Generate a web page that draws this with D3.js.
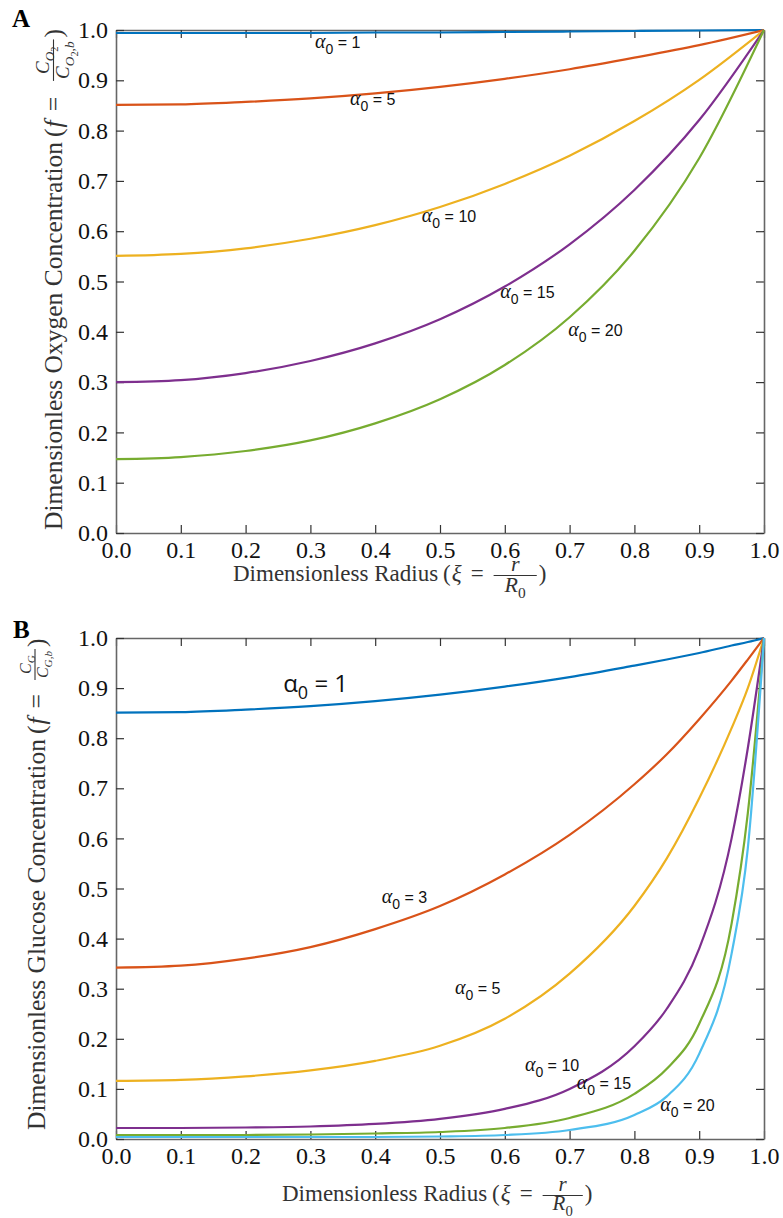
<!doctype html>
<html lang="en">
<head>
<meta charset="utf-8">
<title>Dimensionless concentration profiles</title>
<script src="https://cdn.jsdelivr.net/npm/d3@7"></script>
<style>
  body { margin: 0; background: #fff; }
  svg { display: block; }
</style>
</head>
<body>
<svg id="fig" width="783" height="1218"></svg>
<script>
// ---- data ----
var ticks = [0, 0.1, 0.2, 0.3, 0.4, 0.5, 0.6, 0.7, 0.8, 0.9, 1.0];

// panel A: oxygen
var xiA = [0, 0.1, 0.2, 0.3, 0.4, 0.5, 0.6, 0.7, 0.8, 0.9, 1.0];
var oxyA1  = [0.994, 0.994, 0.994, 0.994, 0.995, 0.995, 0.996, 0.997, 0.998, 0.999, 1.0];
var oxyA5  = [0.851, 0.852, 0.857, 0.864, 0.874, 0.887, 0.903, 0.922, 0.945, 0.970, 1.0];
var oxyA10 = [0.551, 0.555, 0.566, 0.585, 0.612, 0.648, 0.694, 0.750, 0.819, 0.901, 1.0];
var oxyA15 = [0.300, 0.304, 0.318, 0.342, 0.377, 0.425, 0.490, 0.574, 0.682, 0.821, 1.0];
var oxyA20 = [0.147, 0.151, 0.163, 0.184, 0.218, 0.266, 0.334, 0.429, 0.561, 0.745, 1.0];
var seriesA = [oxyA1, oxyA5, oxyA10, oxyA15, oxyA20];
var namesA = ["1", "5", "10", "15", "20"];
// label anchors (xi, f)
var labA = [[0.307, 0.964], [0.361, 0.851], [0.472, 0.618], [0.593, 0.467], [0.698, 0.392]];

// panel B: glucose
var xiB = [0, 0.1, 0.2, 0.3, 0.4, 0.5, 0.6, 0.7, 0.8, 0.85, 0.9, 0.95, 0.975, 1.0];
var gluB1  = [0.851, 0.852, 0.857, 0.864, 0.874, 0.887, 0.903, 0.922, 0.945, 0.957, 0.970, 0.985, 0.992, 1.0];
var gluB3  = [0.342, 0.346, 0.360, 0.383, 0.419, 0.465, 0.528, 0.607, 0.708, 0.768, 0.838, 0.915, 0.957, 1.0];
var gluB5  = [0.116, 0.118, 0.125, 0.137, 0.156, 0.186, 0.240, 0.330, 0.465, 0.560, 0.680, 0.820, 0.900, 1.0];
var gluB10 = [0.022, 0.022, 0.023, 0.025, 0.030, 0.040, 0.060, 0.100, 0.185, 0.260, 0.380, 0.600, 0.780, 1.0];
var gluB15 = [0.008, 0.008, 0.008, 0.009, 0.011, 0.014, 0.022, 0.042, 0.090, 0.140, 0.230, 0.430, 0.650, 1.0];
var gluB20 = [0.004, 0.004, 0.004, 0.004, 0.004, 0.005, 0.008, 0.018, 0.048, 0.085, 0.170, 0.370, 0.580, 1.0];
var seriesB = [gluB1, gluB3, gluB5, gluB10, gluB15, gluB20];
var namesB = ["1", "3", "5", "10", "15", "20"];
var labB = [[0.258, 0.892], [0.410, 0.472], [0.523, 0.290], [0.631, 0.136], [0.711, 0.100], [0.840, 0.056]];

var colors = ["#0072BD", "#D95319", "#EDB120", "#7E2F8E", "#77AC30", "#4DBEEE"];

var serif = "'Liberation Serif', 'Times New Roman', serif";
var sans = "'Liberation Sans', Arial, sans-serif";

var svg = d3.select("#fig");

function drawPanel(top, bottom, xi, series, names, labs, bigFirst) {
  var g = svg.append("g");
  var x = d3.scaleLinear().domain([0, 1]).range([116, 764]);
  var y = d3.scaleLinear().domain([0, 1]).range([bottom, top]);
  var fmt = d3.format(".1f");

  var axes = [
    g.append("g").attr("transform", "translate(0," + bottom + ")")
      .call(d3.axisBottom(x).tickValues(ticks).tickFormat(fmt).tickSizeInner(-8).tickSizeOuter(0).tickPadding(8)),
    g.append("g").attr("transform", "translate(0," + top + ")")
      .call(d3.axisTop(x).tickValues(ticks).tickFormat("").tickSizeInner(-8).tickSizeOuter(0)),
    g.append("g").attr("transform", "translate(116,0)")
      .call(d3.axisLeft(y).tickValues(ticks).tickFormat(fmt).tickSizeInner(-8).tickSizeOuter(0).tickPadding(8)),
    g.append("g").attr("transform", "translate(764,0)")
      .call(d3.axisRight(y).tickValues(ticks).tickFormat("").tickSizeInner(-8).tickSizeOuter(0))
  ];
  axes.forEach(function(a) { a.attr("font-family", serif).attr("font-size", 24); });
  g.selectAll(".tick text").attr("fill", "#111").attr("font-family", serif);
  g.selectAll(".domain").attr("stroke", "#666").attr("stroke-width", 1.6);
  g.selectAll(".tick line").attr("stroke", "#333").attr("stroke-width", 1.2);

  var line = d3.line().x(function(d) { return x(d[0]); }).y(function(d) { return y(d[1]); })
    .curve(d3.curveMonotoneX);
  series.forEach(function(s, i) {
    g.append("path").datum(d3.zip(xi, s)).attr("d", line)
      .attr("fill", "none").attr("stroke", colors[i]).attr("stroke-width", 2.2);
  });

  // curve labels
  labs.forEach(function(p, i) {
    var big = bigFirst && i == 0;
    var t = g.append("text").attr("font-family", sans).attr("fill", "#111")
      .attr("x", x(p[0])).attr("y", y(p[1]));
    if (big) {
      t.attr("font-family", "'Open Sans', 'Noto Sans', sans-serif");
      t.append("tspan").attr("font-size", 24).text("\u03b1");
      t.append("tspan").attr("font-size", 18).attr("dy", 7).text("0");
      t.append("tspan").attr("font-size", 24).attr("dy", -7).text(" = " + names[i]);
    } else {
      t.append("tspan").attr("font-size", 20).attr("font-style", "italic")
        .attr("font-family", serif).text("\u03b1");
      t.append("tspan").attr("font-size", 14).attr("dy", 6).text("0");
      t.append("tspan").attr("font-size", 16).attr("dy", -6).text(" = " + names[i]);
    }
  });
  return g;
}

// math-style axis title: text, "(", italic variable, "=", fraction, ")"
function addPieces(txt, pieces, fs) {
  var off = 0;
  pieces.forEach(function(p) {
    var lev = p[2] || 0;
    var target = lev == 0 ? 0 : (lev == 1 ? 0.28 * fs : 0.45 * fs);
    var size = lev == 0 ? fs : (lev == 1 ? fs * 0.7 : fs * 0.55);
    txt.append("tspan").attr("dy", target - off).attr("font-size", size)
      .attr("font-style", p[1] ? "italic" : "normal").text(p[0]);
    off = target;
  });
}

function mathTitle(transform, prefix, varName, num, den, o) {
  var g = svg.append("g").attr("transform", transform)
    .attr("font-family", serif).attr("fill", "#333");
  var t = g.append("text").attr("x", 0).attr("y", 0).attr("font-size", o.fs);
  t.append("tspan").text(prefix);
  t.append("tspan").attr("dx", o.par).text("(");
  t.append("tspan").attr("dx", 1).attr("font-style", "italic").text(varName);
  t.append("tspan").attr("dx", o.eq).text("=");
  var w = t.node().getComputedTextLength() + o.par + 1 + o.eq + o.gap;
  var n = g.append("text").attr("y", o.numY).attr("font-size", o.ffs);
  addPieces(n, num, o.ffs);
  var d = g.append("text").attr("y", o.denY).attr("font-size", o.ffs);
  addPieces(d, den, o.ffs);
  var nw = n.node().getComputedTextLength(), dw = d.node().getComputedTextLength();
  var fw = Math.max(nw, dw) + o.pad;
  var cx = w + fw / 2;
  n.attr("x", cx - nw / 2);
  d.attr("x", cx - dw / 2);
  g.append("line").attr("x1", w).attr("x2", w + fw).attr("y1", o.barY).attr("y2", o.barY)
    .attr("stroke", "#333").attr("stroke-width", 1.1);
  g.append("text").attr("x", w + fw + 2).attr("y", 0).attr("font-size", o.fs).text(")");
}

drawPanel(30, 533, xiA, seriesA, namesA, labA, false);
drawPanel(638, 1139, xiB, seriesB, namesB, labB, true);

// x titles
mathTitle("translate(233,581)", "Dimensionless Radius", "\u03be",
  [["r", true]], [["R", true], ["0", false, 1]],
  {fs: 23, par: 5, eq: 9, gap: 10, ffs: 22, pad: 22, numY: -10, barY: -5.5, denY: 11});
mathTitle("translate(282,1201)", "Dimensionless Radius", "\u03be",
  [["r", true]], [["R", true], ["0", false, 1]],
  {fs: 23, par: 5, eq: 9, gap: 10, ffs: 21, pad: 20, numY: -10, barY: -5.5, denY: 9});

// y titles
mathTitle("translate(62,530) rotate(-90)", "Dimensionless Oxygen Concentration", "f",
  [["C", true], ["O", true, 1], ["2", false, 2]],
  [["C", true], ["O", true, 1], ["2", false, 2], [",b", true, 1]],
  {fs: 25.5, par: 5, eq: 9, gap: 16, ffs: 19, pad: 4, numY: -13, barY: -8.5, denY: 7});
mathTitle("translate(45,1130) rotate(-90)", "Dimensionless Glucose Concentration", "f",
  [["C", true], ["G", true, 1]],
  [["C", true], ["G,b", true, 1]],
  {fs: 25.5, par: 5, eq: 9, gap: 14, ffs: 16, pad: 4, numY: -14, barY: -10, denY: 3});

// panel letters
svg.append("text").attr("x", 12).attr("y", 27).attr("font-family", serif)
  .attr("font-weight", "bold").attr("font-size", 25).text("A");
svg.append("text").attr("x", 13).attr("y", 638).attr("font-family", serif)
  .attr("font-weight", "bold").attr("font-size", 25).text("B");
</script>
</body>
</html>
